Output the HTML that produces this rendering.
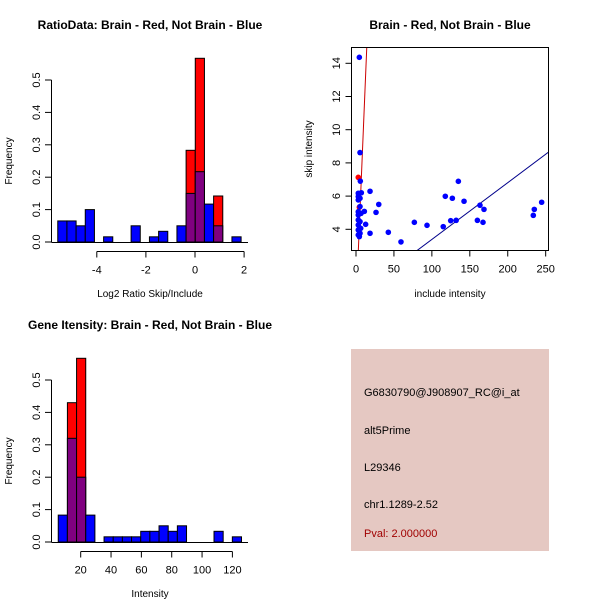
<!DOCTYPE html>
<html><head><meta charset="utf-8"><style>
body{margin:0;background:#fff}
svg{display:block;font-family:"Liberation Sans",sans-serif}
</style></head><body>
<svg id="chart" width="600" height="600" viewBox="0 0 600 600">
<rect width="600" height="600" fill="#fff"/>
<rect x="351" y="349" width="198" height="202" fill="#e5c8c2"/>
<g font-size="11" fill="#000">
<text x="364" y="396">G6830790@J908907_RC@i_at</text>
<text x="364" y="434">alt5Prime</text>
<text x="364" y="471">L29346</text>
<text x="364" y="508">chr1.1289-2.52</text>
<text x="364" y="537" fill="#a00000">Pval: 2.000000</text>
</g>
</svg>
<script>
// ---------- data ----------
const ratioBlue = [0.065,0.065,0.05,0.1,0,0.016,0,0,0.05,0,0.016,0.033,0,0.05,0.15,0.217,0.117,0.05,0,0.016];
const ratioRed  = [0,0,0,0,0,0,0,0,0,0,0,0,0,0,0.283,0.567,0,0.142,0,0];
const ratioStart = -5.59, ratioWidth = 0.3734;
const ratioTicksX = [-4,-2,0,2];
const freqTicks = [0,0.1,0.2,0.3,0.4,0.5];
const freqTickLabels = ["0.0","0.1","0.2","0.3","0.4","0.5"];

const intBlue = [0.083,0.32,0.2,0.083,0,0.016,0.016,0.016,0.016,0.033,0.033,0.05,0.033,0.05,0,0,0,0.033,0,0.016];
const intRed  = [0,0.43,0.567,0,0,0,0,0,0,0,0,0,0,0,0,0,0,0,0,0];
const intStart = 5.2, intWidth = 6.04;
const intTicksX = [20,40,60,80,100,120];

const scatterBlueX = [4.4,5.3,5.7,18.5,3,3,7,5.3,3,30,26.4,11,3,3,3,3,3,3,5.3,6.6,5.3,12.7,6.2,5.3,4.4,18.5,42.6,59.3,76.9,93.6,115,117.7,124.8,127,132,134.9,142.4,160,163.4,167.4,168.7,233.7,235,244.7];
const scatterBlueY = [14.36,8.62,6.9,6.29,6.17,5.97,6.2,5.87,5.77,5.5,5.02,5.08,5.06,4.86,4.56,4.26,3.96,3.66,5.37,4.96,4.46,4.3,4.06,3.76,3.56,3.76,3.82,3.24,4.42,4.24,4.16,5.99,4.52,5.87,4.54,6.89,5.69,4.54,5.45,4.42,5.2,4.84,5.2,5.63];
const scatterRedX = [3,4.4];
const scatterRedY = [7.13,5.33];
const fitBlue = [0.0342,-0.03];
const fitRed = [1.1,-0.65];
const scatTicksX = [0,50,100,150,200,250];
const scatTicksY = [4,6,8,10,12,14];

// ---------- helpers ----------
const NS="http://www.w3.org/2000/svg";
const svg=document.getElementById('chart');
function mk(tag,attrs,parent){const e=document.createElementNS(NS,tag);for(const k in attrs)e.setAttribute(k,attrs[k]);(parent||svg).appendChild(e);return e;}
function txt(x,y,s,attrs,parent){const t=mk('text',Object.assign({x:x,y:y},attrs),parent);t.textContent=s;return t;}

function histPanel(name,title,xlabel,blue,red,start,width,xTicks,sx,sy,yTop,yBot){
  const g=mk('g',{});
  
  
  const t=txt(150,yTop-213,title,{'font-size':'12','font-weight':'bold','text-anchor':'middle'},g);
  
  
  for(let i=0;i<blue.length;i++){
    const x0=sx(start+i*width), x1=sx(start+(i+1)*width);
    const b=blue[i], r=red[i];
    const hi=Math.max(b,r), lo=Math.min(b,r);
    if(hi<=0) continue;
    const col = r>b? '#ff0000':'#0000ff';
    const bar=mk('rect',{x:x0,y:sy(hi),width:x1-x0,height:sy(0)-sy(hi),fill:col,stroke:'#000','stroke-width':1},g);
    
    
    if(b>0&&r>0){
      const ov=mk('rect',{x:x0,y:sy(lo),width:x1-x0,height:sy(0)-sy(lo),fill:'#800080',stroke:'#000','stroke-width':1},g);
      
      
    }
  }
  mk('line',{x1:51.5,x2:248,y1:sy(0)+0.5,y2:sy(0)+0.5,stroke:'#000'},g);
  const ya=mk('g',{},g);
  
  
  mk('line',{x1:51.5,x2:51.5,y1:sy(0),y2:sy(0.5),stroke:'#000'},ya);
  freqTicks.forEach((v,i)=>{
    const y=sy(v);
    mk('line',{x1:45,x2:51.5,y1:y,y2:y,stroke:'#000'},ya);
    const l=txt(40,y,freqTickLabels[i],{'font-size':'11','text-anchor':'middle',transform:'rotate(-90 40 '+y+')'},ya);
    
    
  });
  const yt=txt(12,(sy(0)+sy(0.5))/2,'Frequency',{'font-size':'10','text-anchor':'middle',transform:'rotate(-90 12 '+(sy(0)+sy(0.5))/2+')'},g);
  
  
  const xa=mk('g',{},g);
  
  
  const ay=sy(0)+9.5;
  mk('line',{x1:sx(xTicks[0]),x2:sx(xTicks[xTicks.length-1]),y1:ay,y2:ay,stroke:'#000'},xa);
  xTicks.forEach(v=>{
    const x=sx(v);
    mk('line',{x1:x,x2:x,y1:ay,y2:ay+6,stroke:'#000'},xa);
    const l=txt(x,ay+22,String(v),{'font-size':'11','text-anchor':'middle'},xa);
    
    
  });
  const xt=txt(150,yBot,xlabel,{'font-size':'10','text-anchor':'middle'},g);
  
  
}

histPanel('ratio-hist','RatioData: Brain - Red, Not Brain - Blue','Log2 Ratio Skip/Include',
  ratioBlue,ratioRed,ratioStart,ratioWidth,ratioTicksX,
  v=>195+v*24.55, v=>242-v*324, 242, 297);
histPanel('intensity-hist','Gene Itensity: Brain - Red, Not Brain - Blue','Intensity',
  intBlue,intRed,intStart,intWidth,intTicksX,
  v=>80.7+(v-20)*1.517, v=>542-v*324, 542, 597);

(function(){
  const g=mk('g',{});
  
  
  const sx=v=>356+v*0.7587, sy=v=>229.3-(v-4)*16.6;
  const L=351.5,R=548.5,T=47.5,B=250.5;
  const t=txt(450,29,'Brain - Red, Not Brain - Blue',{'font-size':'12','font-weight':'bold','text-anchor':'middle'},g);
  
  
  const cp=mk('clipPath',{id:'sc'},g);
  mk('rect',{x:L,y:T,width:R-L,height:B-T},cp);
  const plot=mk('g',{'clip-path':'url(#sc)'},g);
  const xr=[-10,260];
  const lb=mk('line',{x1:sx(xr[0]),y1:sy(fitBlue[0]*xr[0]+fitBlue[1]),x2:sx(xr[1]),y2:sy(fitBlue[0]*xr[1]+fitBlue[1]),stroke:'#00008b'},plot);
  
  
  const lr=mk('line',{x1:sx(xr[0]),y1:sy(fitRed[0]*xr[0]+fitRed[1]),x2:sx(xr[1]),y2:sy(fitRed[0]*xr[1]+fitRed[1]),stroke:'#cc0000'},plot);
  
  
  scatterRedX.forEach((x,i)=>{
    const c=mk('circle',{cx:sx(x),cy:sy(scatterRedY[i]),r:2.8,fill:'#ff0000'},plot);
    
    
  });
  scatterBlueX.forEach((x,i)=>{
    const c=mk('circle',{cx:sx(x),cy:sy(scatterBlueY[i]),r:2.8,fill:'#0000ff'},plot);
    
    
  });
  mk('rect',{x:L,y:T,width:R-L,height:B-T,fill:'none',stroke:'#000'},g);
  scatTicksX.forEach(v=>{
    const x=sx(v);
    mk('line',{x1:x,x2:x,y1:B,y2:B+6,stroke:'#000'},g);
    const l=txt(x,B+22,String(v),{'font-size':'11','text-anchor':'middle'},g);
    
    
  });
  scatTicksY.forEach(v=>{
    const y=sy(v);
    mk('line',{x1:L-6,x2:L,y1:y,y2:y,stroke:'#000'},g);
    const l=txt(340,y,String(v),{'font-size':'11','text-anchor':'middle',transform:'rotate(-90 340 '+y+')'},g);
    
    
  });
  const xt=txt(450,297,'include intensity',{'font-size':'10','text-anchor':'middle'},g);
  
  
  const yt=txt(312,149,'skip intensity',{'font-size':'10','text-anchor':'middle',transform:'rotate(-90 312 149)'},g);
  
  
})();
</script>
</body></html>
